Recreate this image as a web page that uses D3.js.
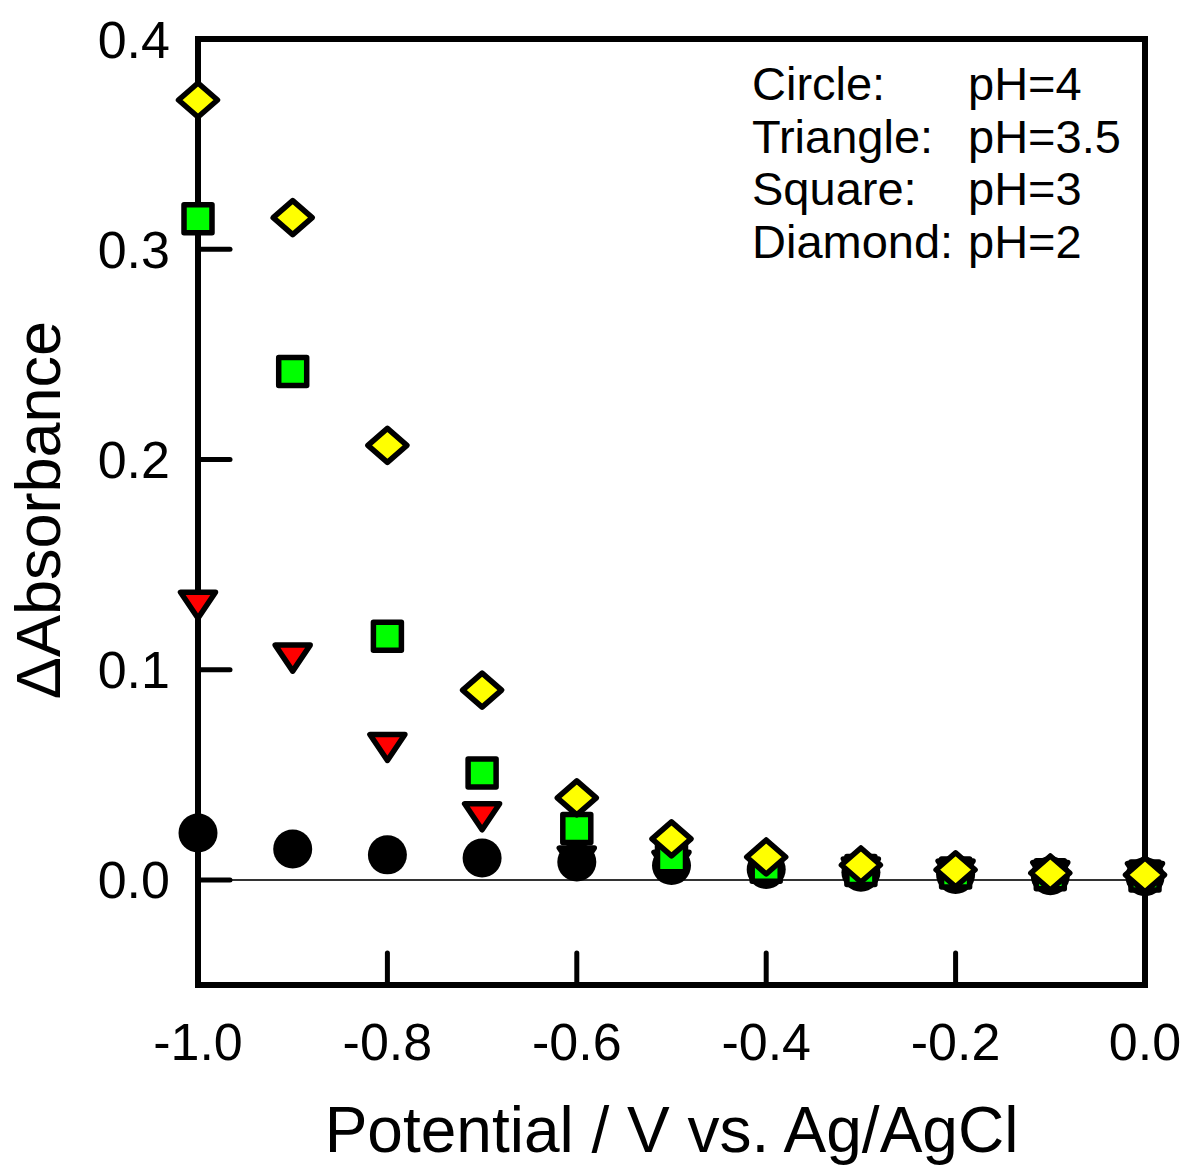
<!DOCTYPE html>
<html>
<head>
<meta charset="utf-8">
<script src="https://cdn.jsdelivr.net/npm/d3@7.9.0/dist/d3.min.js"></script>
<style>
  body { margin: 0; background: #fff; }
  svg text { font-family: 'Liberation Sans', Arial, sans-serif; fill: #000; }
</style>
</head>
<body>
<svg id="chart" width="1185" height="1167"></svg>
<script>
const potentials = [-1.0, -0.9, -0.8, -0.7, -0.6, -0.5, -0.4, -0.3, -0.2, -0.1, 0.0];

// pH = 4 (circle)
const circleValues = [0.0223, 0.0147, 0.0119, 0.0104, 0.0085, 0.0068, 0.0050, 0.0036, 0.0026, 0.0020, 0.0015];
// pH = 3.5 (triangle)
const triangleValues = [0.1306, 0.1055, 0.0630, 0.0300, 0.0090, 0.0070, 0.0050, 0.0038, 0.0028, 0.0021, 0.0016];
// pH = 3 (square)
const squareValues = [0.3145, 0.2418, 0.1159, 0.0508, 0.0245, 0.0105, 0.0060, 0.0045, 0.0033, 0.0025, 0.0018];
// pH = 2 (diamond)
const diamondValues = [0.371, 0.315, 0.2067, 0.0903, 0.039, 0.0195, 0.0109, 0.0071, 0.0048, 0.0033, 0.0024];

const xTicks = [-1.0, -0.8, -0.6, -0.4, -0.2, 0.0];
const yTicks = [0.0, 0.1, 0.2, 0.3, 0.4];

const legendLabels = ['Circle:', 'Triangle:', 'Square:', 'Diamond:'];
const legendValues = ['pH=4', 'pH=3.5', 'pH=3', 'pH=2'];

const plotLeft = 198, plotRight = 1145, plotTop = 39, plotBottom = 985;

const x = d3.scaleLinear().domain([-1.0, 0.0]).range([plotLeft, plotRight]);
const y = d3.scaleLinear().domain([-0.05, 0.4]).range([plotBottom, plotTop]);

// plain hyphen minus, one decimal
const tickFormat = (d) => (Math.abs(d) < 1e-9 ? 0 : d).toFixed(1);

const svg = d3.select('#chart');

// zero line
svg.append('line')
  .attr('x1', plotLeft).attr('x2', plotRight)
  .attr('y1', y(0)).attr('y2', y(0))
  .attr('stroke', '#333').attr('stroke-width', 2);

// ticks (inward)
svg.append('g').selectAll('line')
  .data(yTicks)
  .join('line')
  .attr('x1', plotLeft).attr('x2', plotLeft + 32)
  .attr('y1', (d) => y(d)).attr('y2', (d) => y(d))
  .attr('stroke', '#000').attr('stroke-width', 5).attr('stroke-linecap', 'round');

svg.append('g').selectAll('line')
  .data(xTicks)
  .join('line')
  .attr('x1', (d) => x(d)).attr('x2', (d) => x(d))
  .attr('y1', plotBottom).attr('y2', plotBottom - 32)
  .attr('stroke', '#000').attr('stroke-width', 5).attr('stroke-linecap', 'round');

// frame
svg.append('rect')
  .attr('x', plotLeft).attr('y', plotTop)
  .attr('width', plotRight - plotLeft).attr('height', plotBottom - plotTop)
  .attr('fill', 'none').attr('stroke', '#000').attr('stroke-width', 6);

// tick labels
svg.append('g').selectAll('text')
  .data(yTicks)
  .join('text')
  .attr('x', 170)
  .attr('y', (d) => y(d) + 18.5)
  .attr('text-anchor', 'end')
  .attr('font-size', 52)
  .text(tickFormat);

svg.append('g').selectAll('text')
  .data(xTicks)
  .join('text')
  .attr('x', (d) => x(d))
  .attr('y', 1060)
  .attr('text-anchor', 'middle')
  .attr('font-size', 52)
  .text(tickFormat);

// axis titles
svg.append('text')
  .attr('x', (plotLeft + plotRight) / 2)
  .attr('y', 1152)
  .attr('text-anchor', 'middle')
  .attr('font-size', 64)
  .text('Potential / V vs. Ag/AgCl');

svg.append('text')
  .attr('transform', `translate(60, ${(320 + 700) / 2}) rotate(-90)`)
  .attr('text-anchor', 'middle')
  .attr('font-size', 63)
  .text('\u0394Absorbance');

// marker shapes
const diamondShape = {
  draw(ctx) {
    ctx.moveTo(0, -17);
    ctx.lineTo(19.5, 0);
    ctx.lineTo(0, 17);
    ctx.lineTo(-19.5, 0);
    ctx.closePath();
  },
};
const squareShape = {
  draw(ctx) {
    ctx.rect(-14, -14, 28, 28);
  },
};
const triangleShape = {
  draw(ctx) {
    ctx.moveTo(-17.5, -13);
    ctx.lineTo(17.5, -13);
    ctx.lineTo(0, 13);
    ctx.closePath();
  },
};

function drawSeries(values, shape, fill) {
  svg.append('g').selectAll('path')
    .data(values)
    .join('path')
    .attr('transform', (d, i) => `translate(${x(potentials[i])},${y(d)})`)
    .attr('d', d3.symbol().type(shape)())
    .attr('fill', fill)
    .attr('stroke', '#000')
    .attr('stroke-width', 5.5)
    .attr('stroke-linejoin', 'round');
}

drawSeries(triangleValues, triangleShape, '#ff0000');

svg.append('g').selectAll('circle')
  .data(circleValues)
  .join('circle')
  .attr('cx', (d, i) => x(potentials[i]))
  .attr('cy', (d) => y(d))
  .attr('r', 19.5)
  .attr('fill', '#000');

drawSeries(squareValues, squareShape, '#00ff00');
drawSeries(diamondValues, diamondShape, '#ffff00');

// legend text
const legend = svg.append('g');
legend.selectAll('text.label')
  .data(legendLabels)
  .join('text')
  .attr('class', 'label')
  .attr('x', 752)
  .attr('y', (d, i) => 100 + i * 52.5)
  .attr('font-size', 47)
  .text((d) => d);

legend.selectAll('text.value')
  .data(legendValues)
  .join('text')
  .attr('class', 'value')
  .attr('x', 968)
  .attr('y', (d, i) => 100 + i * 52.5)
  .attr('font-size', 47)
  .text((d) => d);
</script>
</body>
</html>
